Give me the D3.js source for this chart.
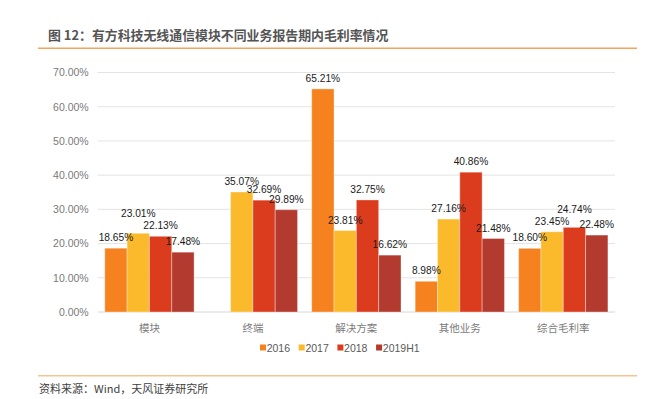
<html>
<head>
<meta charset="utf-8">
<script src="https://d3js.org/d3.v7.min.js"></script>
<style>
  body { margin: 0; background: #fff; }
  svg text { font-family: "Liberation Sans", Arial, Helvetica, sans-serif; }
  .cjk { font-family: "Noto Sans CJK SC", "Liberation Sans", sans-serif; }
</style>
</head>
<body>
<svg id="chart"></svg>
<script>
// data
var categories = ["模块", "终端", "解决方案", "其他业务", "综合毛利率"];
var series = ["2016", "2017", "2018", "2019H1"];
var v2016 = [18.65, null, 65.21, 8.98, 18.60];
var v2017 = [23.01, 35.07, 23.81, 27.16, 23.45];
var v2018 = [22.13, 32.69, 32.75, 40.86, 24.74];
var v2019 = [17.48, 29.89, 16.62, 21.48, 22.48];
var yTicks = [0, 10, 20, 30, 40, 50, 60, 70];
var colors = ["#F5821F", "#FBB92C", "#DC3C1E", "#B23A2E"];

var values = [v2016, v2017, v2018, v2019];
var W = 647, H = 399;
var m = { left: 97.7, right: 615, top: 72.5, bottom: 312 };

var svg = d3.select("#chart").attr("width", W).attr("height", H);

// title + rules
svg.append("text").attr("class", "cjk")
  .attr("x", 48).attr("y", 40)
  .attr("font-size", "12.9px").attr("font-weight", "bold").attr("fill", "#545454")
  .text("图 12：有方科技无线通信模块不同业务报告期内毛利率情况");
svg.append("line").attr("x1", 38).attr("x2", 637).attr("y1", 48.3).attr("y2", 48.3)
  .attr("stroke", "#F6A35C").attr("stroke-width", 1.5);
svg.append("line").attr("x1", 38).attr("x2", 637).attr("y1", 375.7).attr("y2", 375.7)
  .attr("stroke", "#F9C38F").attr("stroke-width", 1.5);
svg.append("text").attr("class", "cjk")
  .attr("x", 39).attr("y", 393)
  .attr("font-size", "11px").attr("fill", "#404040")
  .text("资料来源：Wind，天风证券研究所");

// scales
var y = d3.scaleLinear().domain([0, 70]).range([m.bottom, m.top]);
var x0 = d3.scaleBand().domain(categories).range([m.left, m.right])
  .paddingInner(0.137).paddingOuter(0.0685);
var x1 = d3.scaleBand().domain(series).range([0, x0.bandwidth()]);

// grid
svg.append("g").selectAll("line").data(yTicks).enter().append("line")
  .attr("x1", m.left).attr("x2", m.right)
  .attr("y1", function(d) { return y(d); }).attr("y2", function(d) { return y(d); })
  .attr("stroke", function(d) { return d == 0 ? "#d6d6d6" : "#e4e4e4"; })
  .attr("stroke-width", 1);

// y axis
var yAxis = d3.axisLeft(y).tickValues(yTicks).tickSize(0).tickPadding(9)
  .tickFormat(function(d) { return d.toFixed(2) + "%"; });
var ga = svg.append("g").attr("transform", "translate(" + m.left + ",0)").call(yAxis);
ga.select(".domain").remove();
ga.selectAll("text").attr("font-size", "10.5px").attr("fill", "#7a7a7a")
  .attr("font-family", "'Liberation Sans', Arial, sans-serif");

// x axis labels
var gx = svg.append("g").attr("transform", "translate(0," + m.bottom + ")")
  .call(d3.axisBottom(x0).tickSize(0).tickPadding(13));
gx.select(".domain").remove();
gx.selectAll("text").attr("class", "cjk").attr("font-size", "10.5px").attr("fill", "#7a7a7a")
  .attr("font-family", "'Noto Sans CJK SC', sans-serif");

// bars
var rows = [];
categories.forEach(function(c, ci) {
  series.forEach(function(s, si) {
    var v = values[si][ci];
    if (v != null) rows.push({ cat: c, ci: ci, s: s, si: si, v: v });
  });
});

svg.append("g").selectAll("rect").data(rows).enter().append("rect")
  .attr("x", function(d) { return x0(d.cat) + x1(d.s); })
  .attr("y", function(d) { return y(d.v); })
  .attr("width", x1.bandwidth())
  .attr("height", function(d) { return y(0) - y(d.v); })
  .attr("fill", function(d) { return colors[d.si]; })
  .attr("stroke", "rgba(255,255,255,0.35)").attr("stroke-width", 1);

// labels, nudged up when two neighbours sit on about the same line
rows.forEach(function(d) { d.ly = y(d.v) - 7; });
categories.forEach(function(c) {
  var g = rows.filter(function(d) { return d.cat == c; });
  for (var i = 0; i < g.length - 1; i++) {
    var a = g[i], b = g[i + 1];
    if (Math.abs(a.ly - b.ly) < 6) {
      if (a.v > b.v) a.ly = b.ly - 12; else b.ly = a.ly - 12;
    }
  }
});

svg.append("g").selectAll("text").data(rows).enter().append("text")
  .attr("x", function(d) { return x0(d.cat) + x1(d.s) + x1.bandwidth() / 2; })
  .attr("y", function(d) { return d.ly; })
  .attr("text-anchor", "middle")
  .attr("font-size", "10.2px").attr("fill", "#1a1a1a")
  .text(function(d) { return d.v.toFixed(2) + "%"; });

// legend
var lg = svg.append("g").selectAll("g").data(series).enter().append("g")
  .attr("transform", function(d, i) { return "translate(" + (260 + i * 38.7) + ",344.5)"; });
lg.append("rect").attr("width", 6).attr("height", 6)
  .attr("fill", function(d, i) { return colors[i]; });
lg.append("text").attr("x", 6.7).attr("y", 7)
  .attr("font-size", "10.5px").attr("fill", "#595959")
  .text(function(d) { return d; });
</script>
</body>
</html>
